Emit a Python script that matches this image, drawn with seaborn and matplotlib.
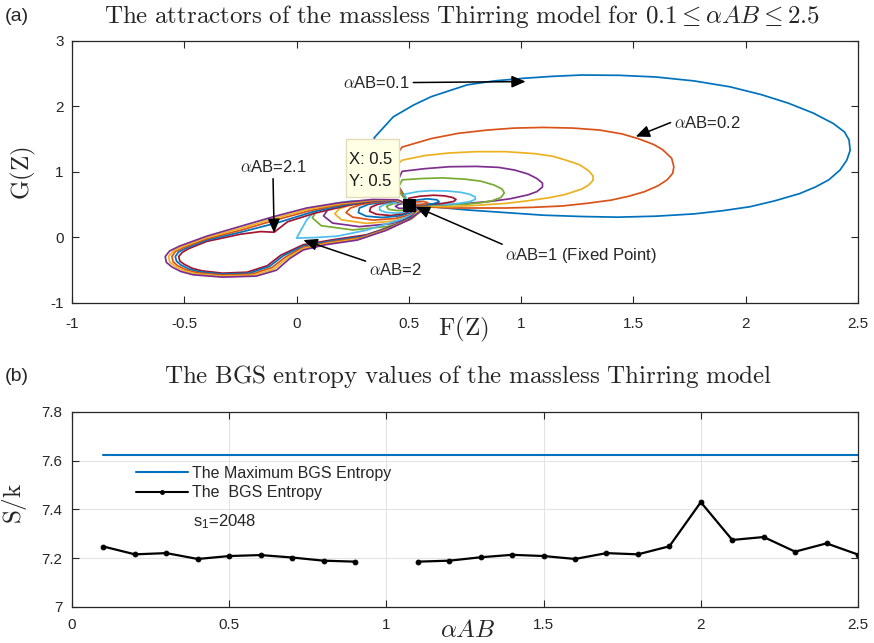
import numpy as np
import pandas as pd
import matplotlib
matplotlib.use("Agg")
import matplotlib.pyplot as plt
import seaborn as sns
from matplotlib.lines import Line2D
from matplotlib.patches import Rectangle

# ---------------- data: attractor curves (F(Z), G(Z)) ----------------
loop_0_1 = [(0.50, 0.52), (0.46, 0.75), (0.42, 1.00), (0.38, 1.25), (0.345, 1.52), (0.43, 1.84),
            (0.52, 2.02), (0.60, 2.15), (0.76, 2.33), (0.88, 2.39), (1.01, 2.43), (1.14, 2.46),
            (1.27, 2.48), (1.44, 2.475), (1.60, 2.45), (1.77, 2.39), (1.93, 2.30), (2.07, 2.18),
            (2.19, 2.05), (2.30, 1.90), (2.39, 1.74), (2.44, 1.61), (2.46, 1.49), (2.465, 1.33),
            (2.45, 1.18), (2.42, 1.03), (2.37, 0.88), (2.31, 0.77), (2.24, 0.67), (2.13, 0.56),
            (2.02, 0.47), (1.90, 0.41), (1.77, 0.36), (1.60, 0.325), (1.43, 0.31), (1.27, 0.32),
            (1.10, 0.34), (0.93, 0.38), (0.76, 0.42), (0.60, 0.47), (0.51, 0.50)]
loop_0_2 = [(0.50, 0.52), (0.44, 0.85), (0.42, 1.15), (0.47, 1.38), (0.60, 1.51), (0.72, 1.59),
            (0.85, 1.64), (0.97, 1.67), (1.10, 1.68), (1.23, 1.67), (1.35, 1.64), (1.45, 1.58),
            (1.52, 1.51), (1.59, 1.42), (1.63, 1.34), (1.67, 1.21), (1.68, 1.08), (1.675, 0.98),
            (1.65, 0.88), (1.61, 0.79), (1.55, 0.70), (1.48, 0.63), (1.40, 0.57), (1.29, 0.52),
            (1.18, 0.48), (1.05, 0.46), (0.93, 0.45), (0.80, 0.45), (0.68, 0.45), (0.56, 0.47),
            (0.51, 0.50)]
loop_0_3 = [(0.50, 0.52), (0.43, 0.80), (0.42, 1.02), (0.47, 1.18), (0.57, 1.25), (0.68, 1.29),
            (0.80, 1.31), (0.93, 1.31), (1.06, 1.28), (1.14, 1.24), (1.20, 1.18), (1.26, 1.11),
            (1.30, 1.02), (1.32, 0.94), (1.32, 0.87), (1.30, 0.80), (1.27, 0.74), (1.20, 0.66),
            (1.13, 0.61), (1.03, 0.56), (0.93, 0.52), (0.80, 0.49), (0.68, 0.47), (0.55, 0.48),
            (0.51, 0.50)]
loop_0_4 = [(0.50, 0.52), (0.44, 0.78), (0.47, 1.01), (0.57, 1.05), (0.68, 1.08), (0.80, 1.085),
            (0.90, 1.07), (0.97, 1.03), (1.03, 0.97), (1.07, 0.90), (1.095, 0.83), (1.095, 0.77),
            (1.07, 0.70), (1.03, 0.65), (0.95, 0.59), (0.86, 0.55), (0.76, 0.52), (0.66, 0.50),
            (0.55, 0.49), (0.51, 0.50)]
loop_0_5 = [(0.50, 0.52), (0.45, 0.74), (0.47, 0.88), (0.56, 0.90), (0.65, 0.91), (0.75, 0.89),
            (0.82, 0.86), (0.88, 0.80), (0.915, 0.74), (0.925, 0.68), (0.91, 0.61), (0.87, 0.56),
            (0.82, 0.53), (0.76, 0.51), (0.67, 0.50), (0.60, 0.49), (0.51, 0.50)]
loop_0_6 = [(0.50, 0.52), (0.48, 0.66), (0.54, 0.70), (0.60, 0.715), (0.67, 0.71), (0.73, 0.69),
            (0.77, 0.66), (0.795, 0.62), (0.795, 0.58), (0.77, 0.545), (0.72, 0.52), (0.65, 0.505),
            (0.57, 0.50), (0.51, 0.50)]
loop_0_7 = [(0.50, 0.52), (0.50, 0.60), (0.55, 0.63), (0.61, 0.645), (0.66, 0.635), (0.695, 0.61),
            (0.71, 0.58), (0.70, 0.55), (0.65, 0.52), (0.58, 0.50), (0.51, 0.50)]
loop_0_8 = [(0.50, 0.51), (0.52, 0.565), (0.58, 0.59), (0.625, 0.575), (0.635, 0.545),
            (0.61, 0.515), (0.55, 0.50), (0.51, 0.50)]
loop_0_9 = [(0.50, 0.51), (0.53, 0.54), (0.565, 0.55), (0.585, 0.53), (0.575, 0.51),
            (0.55, 0.50), (0.51, 0.50)]

loop_1_1 = [(0.50, 0.50), (0.48, 0.52), (0.455, 0.505), (0.44, 0.475), (0.455, 0.445),
            (0.49, 0.445), (0.51, 0.475), (0.50, 0.50)]
loop_1_2 = [(0.50, 0.50), (0.47, 0.53), (0.43, 0.515), (0.40, 0.475), (0.41, 0.43), (0.45, 0.41),
            (0.49, 0.42), (0.515, 0.465), (0.50, 0.50)]
loop_1_3 = [(0.50, 0.50), (0.47, 0.54), (0.42, 0.525), (0.39, 0.505), (0.37, 0.465), (0.37, 0.42),
            (0.395, 0.385), (0.45, 0.37), (0.50, 0.40), (0.52, 0.46), (0.50, 0.50)]
loop_1_4 = [(0.50, 0.50), (0.46, 0.545), (0.40, 0.535), (0.36, 0.505), (0.33, 0.46), (0.325, 0.40),
            (0.355, 0.355), (0.42, 0.335), (0.48, 0.36), (0.525, 0.44), (0.50, 0.50)]
loop_1_5 = [(0.50, 0.50), (0.46, 0.55), (0.38, 0.54), (0.32, 0.505), (0.28, 0.45), (0.275, 0.38),
            (0.31, 0.325), (0.38, 0.305), (0.46, 0.33), (0.51, 0.38), (0.53, 0.44), (0.50, 0.50)]
loop_1_6 = [(0.50, 0.50), (0.45, 0.555), (0.36, 0.545), (0.29, 0.505), (0.24, 0.45), (0.22, 0.38),
            (0.25, 0.31), (0.34, 0.265), (0.44, 0.29), (0.51, 0.35), (0.535, 0.43), (0.50, 0.50)]
loop_1_7 = [(0.50, 0.50), (0.45, 0.555), (0.34, 0.55), (0.25, 0.505), (0.19, 0.44), (0.17, 0.36),
            (0.20, 0.27), (0.31, 0.215), (0.43, 0.25), (0.51, 0.32), (0.54, 0.41), (0.50, 0.50)]
loop_1_8 = [(0.50, 0.50), (0.45, 0.56), (0.32, 0.555), (0.21, 0.505), (0.14, 0.43), (0.12, 0.33),
            (0.16, 0.22), (0.28, 0.165), (0.42, 0.21), (0.51, 0.30), (0.545, 0.40), (0.50, 0.50)]
loop_1_9 = [(0.50, 0.50), (0.45, 0.565), (0.30, 0.56), (0.17, 0.50), (0.09, 0.41), (0.07, 0.30),
            (0.11, 0.18), (0.25, 0.115), (0.41, 0.17), (0.51, 0.28), (0.55, 0.39), (0.50, 0.50)]
loop_2_0 = [(0.50, 0.50), (0.385, 0.57), (0.24, 0.555), (0.17, 0.52), (0.12, 0.47), (0.075, 0.38),
            (0.045, 0.27), (0.0, -0.01), (0.09, 0.0), (0.18, 0.02), (0.31, 0.11), (0.46, 0.27),
            (0.555, 0.40), (0.50, 0.50)]
loop_2_1 = [(0.50, 0.50), (0.44, 0.555), (0.34, 0.55), (0.23, 0.49), (0.08, 0.37), (-0.04, 0.24),
            (-0.10, 0.08), (-0.16, 0.09), (-0.25, 0.05), (-0.40, -0.06), (-0.48, -0.17),
            (-0.51, -0.23), (-0.525, -0.29), (-0.52, -0.36), (-0.50, -0.41), (-0.465, -0.47),
            (-0.42, -0.51), (-0.33, -0.545), (-0.22, -0.53), (-0.13, -0.43), (-0.07, -0.27),
            (0.03, -0.11), (0.17, -0.03), (0.31, 0.04), (0.44, 0.19), (0.525, 0.35), (0.535, 0.46),
            (0.50, 0.50)]
loop_2_2 = [(0.50, 0.50), (0.44, 0.56), (0.34, 0.56), (0.22, 0.50), (0.07, 0.39), (-0.08, 0.23),
            (-0.25, 0.08), (-0.40, -0.04), (-0.49, -0.16), (-0.525, -0.22), (-0.54, -0.29),
            (-0.535, -0.36), (-0.515, -0.42), (-0.48, -0.48), (-0.43, -0.525), (-0.33, -0.56),
            (-0.21, -0.545), (-0.12, -0.44), (-0.06, -0.28), (0.03, -0.13), (0.16, -0.05),
            (0.30, 0.02), (0.43, 0.17), (0.52, 0.33), (0.54, 0.45), (0.50, 0.50)]
loop_2_3 = [(0.50, 0.50), (0.44, 0.565), (0.34, 0.565), (0.21, 0.51), (0.06, 0.41), (-0.10, 0.26),
            (-0.25, 0.11), (-0.40, -0.02), (-0.50, -0.15), (-0.54, -0.215), (-0.555, -0.29),
            (-0.55, -0.37), (-0.53, -0.43), (-0.495, -0.49), (-0.44, -0.54), (-0.33, -0.575),
            (-0.20, -0.56), (-0.11, -0.46), (-0.05, -0.30), (0.03, -0.15), (0.15, -0.07),
            (0.29, 0.0), (0.42, 0.15), (0.52, 0.31), (0.545, 0.44), (0.50, 0.50)]
loop_2_4 = [(0.50, 0.50), (0.44, 0.57), (0.34, 0.57), (0.20, 0.52), (0.05, 0.43), (-0.10, 0.29),
            (-0.25, 0.14), (-0.40, 0.00), (-0.51, -0.14), (-0.55, -0.21), (-0.57, -0.29),
            (-0.565, -0.375), (-0.54, -0.44), (-0.505, -0.505), (-0.45, -0.555), (-0.33, -0.59),
            (-0.19, -0.575), (-0.10, -0.48), (-0.04, -0.31), (0.03, -0.17), (0.14, -0.09),
            (0.28, -0.02), (0.41, 0.13), (0.51, 0.29), (0.55, 0.43), (0.50, 0.50)]
loop_2_5 = [(0.50, 0.50), (0.45, 0.575), (0.34, 0.58), (0.19, 0.53), (0.045, 0.45), (-0.10, 0.32),
            (-0.25, 0.17), (-0.40, 0.02), (-0.52, -0.13), (-0.565, -0.205), (-0.585, -0.29),
            (-0.58, -0.38), (-0.555, -0.45), (-0.515, -0.52), (-0.46, -0.57), (-0.33, -0.605),
            (-0.18, -0.59), (-0.09, -0.50), (-0.03, -0.32), (0.03, -0.19), (0.13, -0.11),
            (0.27, -0.04), (0.40, 0.11), (0.50, 0.27), (0.56, 0.42), (0.50, 0.50)]

curve_alphas = ["0.1", "0.2", "0.3", "0.4", "0.5", "0.6", "0.7", "0.8", "0.9",
                "1.1", "1.2", "1.3", "1.4", "1.5", "1.6", "1.7", "1.8", "1.9",
                "2.0", "2.1", "2.2", "2.3", "2.4", "2.5"]
curve_points = [loop_0_1, loop_0_2, loop_0_3, loop_0_4, loop_0_5, loop_0_6, loop_0_7, loop_0_8,
                loop_0_9, loop_1_1, loop_1_2, loop_1_3, loop_1_4, loop_1_5, loop_1_6, loop_1_7,
                loop_1_8, loop_1_9, loop_2_0, loop_2_1, loop_2_2, loop_2_3, loop_2_4, loop_2_5]
fixed_point = (0.5, 0.5)

# ---------------- data: BGS entropy ----------------
alpha_ab = [0.1, 0.2, 0.3, 0.4, 0.5, 0.6, 0.7, 0.8, 0.9, 1.0, 1.1, 1.2, 1.3,
            1.4, 1.5, 1.6, 1.7, 1.8, 1.9, 2.0, 2.1, 2.2, 2.3, 2.4, 2.5]
bgs_entropy = [7.248, 7.216, 7.221, 7.197, 7.209, 7.213, 7.203, 7.190, 7.186, np.nan,
               7.186, 7.190, 7.204, 7.214, 7.209, 7.197, 7.221, 7.216, 7.249, 7.430,
               7.275, 7.287, 7.227, 7.261, 7.215]
max_bgs_entropy = 7.625

# ---------------- style ----------------
sns.set_style("ticks")
plt.rcParams["font.family"] = ["Liberation Sans", "DejaVu Sans"]
plt.rcParams["mathtext.fontset"] = "cm"
AX_COL = "#262626"
matlab_cycle = [(0.0, 0.447, 0.741), (0.85, 0.325, 0.098), (0.929, 0.694, 0.125),
                (0.494, 0.184, 0.556), (0.466, 0.674, 0.188), (0.301, 0.745, 0.933),
                (0.635, 0.078, 0.184)]

fig = plt.figure(figsize=(8.74, 6.43), dpi=100)
ax1 = fig.add_axes([0.0824, 0.5288, 0.8993, 0.4075])
ax2 = fig.add_axes([0.0824, 0.056, 0.8993, 0.3033])

# ---------------- top panel ----------------
rows = []
for a, pts in zip(curve_alphas, curve_points):
    for i, (fx, gy) in enumerate(pts):
        rows.append((fx, gy, a, i))
df_curves = pd.DataFrame(rows, columns=["F", "G", "alpha", "step"])
palette = {}
for a in curve_alphas:
    k = int(round(float(a) * 10)) - 1
    palette[a] = matlab_cycle[k % 7]

sns.lineplot(data=df_curves, x="F", y="G", hue="alpha", hue_order=curve_alphas,
             palette=palette, sort=False, estimator=None, legend=False, lw=1.25, ax=ax1)

# data tip box
ax1.add_patch(Rectangle((0.218, 0.62), 0.24, 0.88, facecolor="#ffffe6", edgecolor="#e2dcb8",
                        lw=1.0, zorder=5))
ax1.text(0.232, 1.19, "X: 0.5", fontsize=12, va="center", ha="left", zorder=6, color="#1a1a1a")
ax1.text(0.232, 0.85, "Y: 0.5", fontsize=12, va="center", ha="left", zorder=6, color="#1a1a1a")
sns.scatterplot(x=[fixed_point[0]], y=[fixed_point[1]], marker="s", s=80, color="black",
                edgecolor="black", zorder=7, ax=ax1, legend=False)

arrow_kw = dict(arrowstyle="-|>,head_length=0.7,head_width=0.3", color="black", lw=1.1,
                shrinkA=0, shrinkB=0)
ann_fs = 12
ax1.annotate(r"$\alpha$AB=0.1", xy=(1.02, 2.38), xytext=(0.505, 2.365), ha="right", va="center",
             fontsize=ann_fs, arrowprops=dict(arrow_kw, relpos=(1.0, 0.5)), zorder=8)
ax1.annotate(r"$\alpha$AB=0.2", xy=(1.51, 1.54), xytext=(1.68, 1.75), ha="left", va="center",
             fontsize=ann_fs, arrowprops=dict(arrow_kw, relpos=(0.0, 0.6)), zorder=8)
ax1.annotate(r"$\alpha$AB=2.1", xy=(-0.10, 0.07), xytext=(-0.105, 1.07), ha="center", va="center",
             fontsize=ann_fs, arrowprops=dict(arrow_kw, relpos=(0.5, 0.0)), zorder=8)
ax1.annotate(r"$\alpha$AB=2", xy=(0.03, -0.04), xytext=(0.44, -0.50), ha="center", va="center",
             fontsize=ann_fs, arrowprops=dict(arrow_kw, relpos=(0.0, 1.0)), zorder=8)
ax1.annotate(r"$\alpha$AB=1 (Fixed Point)", xy=(0.53, 0.47), xytext=(0.93, -0.27), ha="left",
             va="center", fontsize=ann_fs, arrowprops=dict(arrow_kw, relpos=(0.0, 1.0)), zorder=8)

ax1.set_xlim(-1, 2.5)
ax1.set_ylim(-1, 3)
ax1.set_xticks([-1, -0.5, 0, 0.5, 1, 1.5, 2, 2.5])
ax1.set_xticklabels(["-1", "-0.5", "0", "0.5", "1", "1.5", "2", "2.5"])
ax1.set_yticks([-1, 0, 1, 2, 3])
ax1.set_yticklabels(["-1", "0", "1", "2", "3"])
ax1.set_xlabel("")
ax1.set_ylabel("")
ax1.tick_params(axis="x", direction="in", top=True, length=5, width=0.8, labelsize=11,
                pad=10, colors=AX_COL)
ax1.tick_params(axis="y", direction="in", right=True, length=5, width=0.8, labelsize=11,
                pad=6, colors=AX_COL)

# ---------------- bottom panel ----------------
df_ent = pd.DataFrame({"alpha": alpha_ab, "S": bgs_entropy}).dropna()
df_ent["segment"] = np.where(df_ent["alpha"] < 1.0, "low", "high")
df_max = pd.DataFrame({"alpha": alpha_ab, "S": [max_bgs_entropy] * len(alpha_ab)})

ax2.grid(True, color="#e4e4e4", lw=0.8)
ax2.set_axisbelow(True)
sns.lineplot(data=df_max, x="alpha", y="S", color=matlab_cycle[0], lw=1.5, ax=ax2,
             estimator=None)
sns.lineplot(data=df_ent, x="alpha", y="S", units="segment", estimator=None, color="black",
             lw=1.6, marker="o", markersize=3.4, markeredgecolor="black", ax=ax2)

ax2.set_xlim(0, 2.5)
ax2.set_ylim(7, 7.8)
ax2.set_xticks([0, 0.5, 1, 1.5, 2, 2.5])
ax2.set_xticklabels(["0", "0.5", "1", "1.5", "2", "2.5"])
ax2.set_yticks([7, 7.2, 7.4, 7.6, 7.8])
ax2.set_yticklabels(["7", "7.2", "7.4", "7.6", "7.8"])
ax2.set_xlabel("")
ax2.set_ylabel("")
ax2.tick_params(axis="x", direction="in", top=True, length=5, width=0.8, labelsize=11,
                pad=8, colors=AX_COL)
ax2.tick_params(axis="y", direction="in", right=True, length=5, width=0.8, labelsize=11,
                pad=7, colors=AX_COL)

handles = [Line2D([], [], color=matlab_cycle[0], lw=1.5),
           Line2D([], [], color="black", lw=1.5, marker="o", markersize=2.5)]
ax2.legend(handles, ["The Maximum BGS Entropy", "The  BGS Entropy"], loc="upper left",
           bbox_to_anchor=(0.081, 0.725), frameon=False, fontsize=11.5, handlelength=3.3,
           handletextpad=0.2, borderpad=0, borderaxespad=0, labelspacing=0.3, numpoints=1)
ax2.text(0.154, 0.44, r"s$\mathregular{_1}$=2048", transform=ax2.transAxes, fontsize=12,
         ha="left", va="center")

for ax in (ax1, ax2):
    for sp in ax.spines.values():
        sp.set_visible(True)
        sp.set_color(AX_COL)
        sp.set_linewidth(0.9)

# ---------------- titles and labels ----------------
fig.text(0.528, 0.9736,
         r"$\mathrm{The\ attractors\ of\ the\ massless\ Thirring\ model\ for\ }0.1 \leq \alpha AB \leq 2.5$",
         ha="center", va="center", fontsize=18)
fig.text(0.535, 0.4137, r"$\mathrm{The\ BGS\ entropy\ values\ of\ the\ massless\ Thirring\ model}$",
         ha="center", va="center", fontsize=18)
fig.text(0.005, 0.9736, "(a)", ha="left", va="center", fontsize=14)
fig.text(0.005, 0.4137, "(b)", ha="left", va="center", fontsize=14)
fig.text(0.530, 0.487, r"$\mathrm{F(Z)}$", ha="center", va="center", fontsize=18)
fig.text(0.535, 0.020, r"$\alpha AB$", ha="center", va="center", fontsize=18)
fig.text(0.027, 0.731, r"$\mathrm{G(Z)}$", ha="center", va="center", fontsize=18, rotation=90)
fig.text(0.017, 0.217, r"$\mathrm{S/k}$", ha="center", va="center", fontsize=18, rotation=90)

fig.savefig("out.png", dpi=100)
